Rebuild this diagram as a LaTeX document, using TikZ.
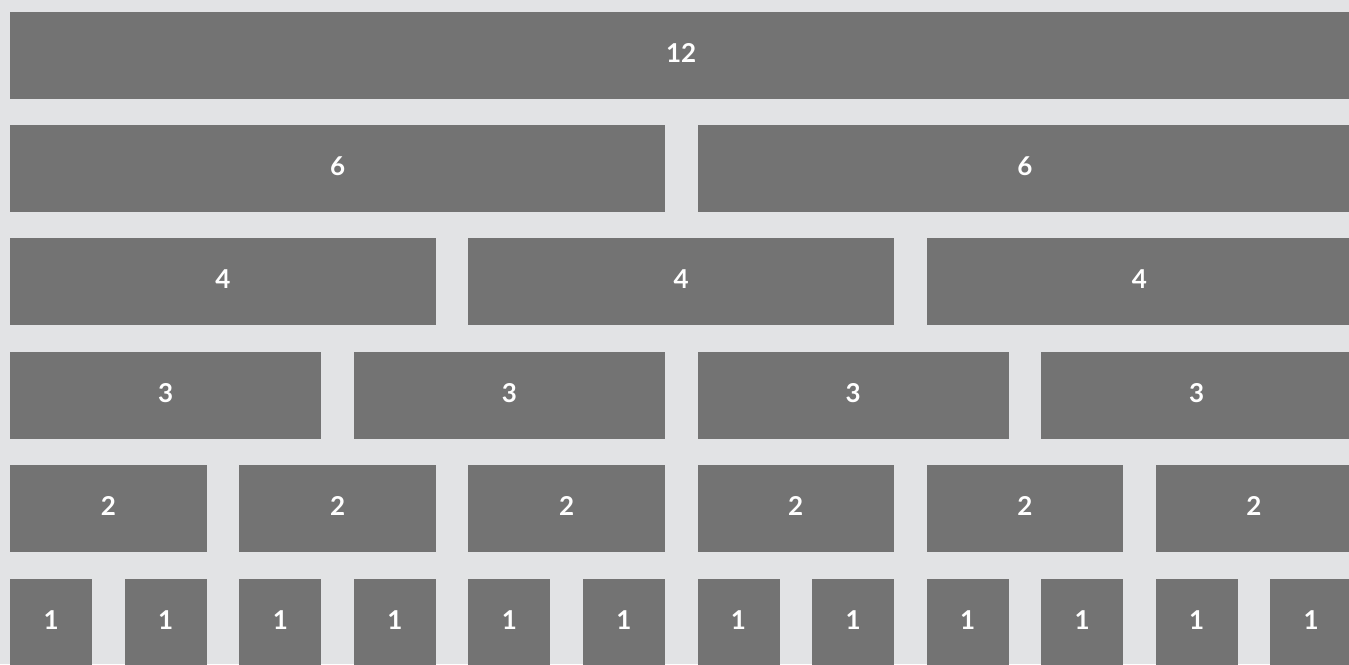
\documentclass[tikz,border=0pt]{standalone}
\usepackage{fontspec}
\setmainfont{Lato}
\definecolor{bggray}{HTML}{E2E3E5}
\definecolor{boxgray}{HTML}{737373}
\tikzset{
  cell/.style={rectangle, fill=boxgray, text=white, inner sep=0pt,
    anchor=north west, minimum height=87pt, text depth=5pt,
    font=\bfseries\fontsize{26}{26}\selectfont},
}
\begin{document}
\begin{tikzpicture}[x=1pt,y=-1pt]
  \useasboundingbox (0,0) rectangle (1349,664);
  \fill[bggray] (0,0) rectangle (1349,664);
  \clip (0,0) rectangle (1349,664);
  % one row per column span, 12 grid columns
  \foreach \w/\top in {12/12,6/125,4/238,3/352,2/465,1/579} {
    \pgfmathtruncatemacro\ncells{12/\w}
    \pgfmathsetmacro\cellw{(\w-1)*114.55+82}
    \foreach \k in {1,...,\ncells} {
      \pgfmathsetmacro\cellx{10+(\k-1)*\w*114.55}
      \node[cell, minimum width=\cellw pt] (c\w-\k) at (\cellx,\top) {\w};
    }
  }
\end{tikzpicture}
\end{document}
